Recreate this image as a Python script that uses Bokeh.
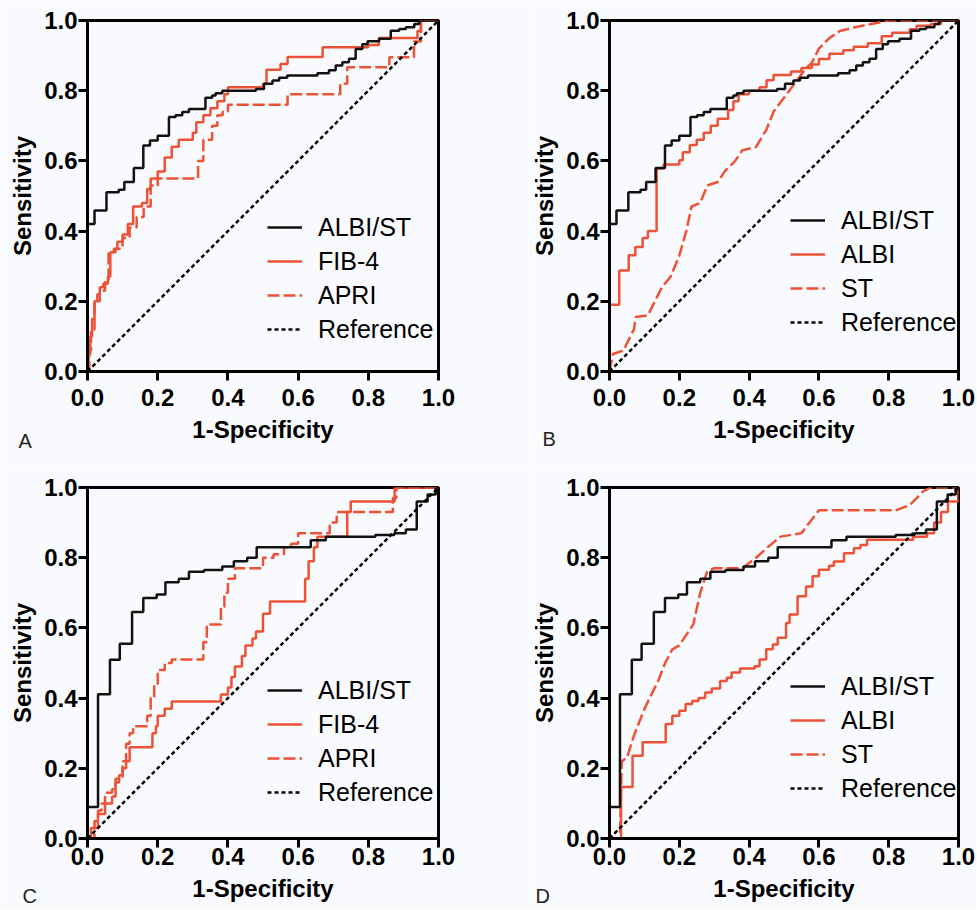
from bokeh.plotting import figure
from bokeh.layouts import row, column
from bokeh.models import Range1d, FixedTicker, Label
from bokeh.embed import file_html
from bokeh.resources import INLINE

# ---------------- data ----------------
TICKS = [0.0, 0.2, 0.4, 0.6, 0.8, 1.0]
TICK_LABELS = ["0.0", "0.2", "0.4", "0.6", "0.8", "1.0"]
X_TITLE = "1-Specificity"
Y_TITLE = "Sensitivity"
PANEL_LETTERS = ["A", "B", "C", "D"]

REF_X = [0.0, 1.0]
REF_Y = [0.0, 1.0]

# ALBI/ST, panels A and B
albist_ab_fpr = [0, 0, 0.02, 0.054, 0.089, 0.105, 0.132, 0.159, 0.178, 0.2,
                 0.232, 0.251, 0.27, 0.289, 0.336, 0.355, 0.365, 0.384, 0.48, 0.503,
                 0.527, 0.546, 0.569, 0.655, 0.688, 0.707, 0.726, 0.745, 0.764, 0.783,
                 0.798, 0.831, 0.864, 0.888, 0.907, 0.931, 0.945, 1.0]
albist_ab_tpr = [0, 0.42, 0.459, 0.511, 0.518, 0.54, 0.58, 0.644, 0.658, 0.672,
                 0.725, 0.73, 0.739, 0.748, 0.78, 0.786, 0.793, 0.80, 0.805, 0.82,
                 0.829, 0.837, 0.843, 0.85, 0.858, 0.872, 0.881, 0.891, 0.919, 0.932,
                 0.941, 0.948, 0.971, 0.976, 0.981, 0.99, 1.0, 1.0]

# FIB-4, panel A
fib4_a_fpr = [0, 0.003, 0.008, 0.013, 0.02, 0.028, 0.035, 0.045, 0.058, 0.065,
              0.075, 0.085, 0.1, 0.115, 0.13, 0.155, 0.17, 0.18, 0.2, 0.22,
              0.24, 0.26, 0.3, 0.31, 0.33, 0.35, 0.37, 0.39, 0.4, 0.5,
              0.51, 0.55, 0.57, 0.67, 0.8, 0.83, 0.94, 0.95, 1.0]
fib4_a_tpr = [0, 0.05, 0.1, 0.15, 0.2, 0.22, 0.24, 0.25, 0.27, 0.34,
              0.35, 0.37, 0.39, 0.42, 0.47, 0.48, 0.52, 0.55, 0.57, 0.61,
              0.64, 0.66, 0.68, 0.71, 0.73, 0.75, 0.77, 0.79, 0.81, 0.82,
              0.86, 0.876, 0.896, 0.924, 0.93, 0.95, 0.97, 1.0, 1.0]

# APRI, panel A
apri_a_fpr = [0, 0.005, 0.01, 0.02, 0.035, 0.05, 0.06, 0.08, 0.1, 0.12,
              0.14, 0.16, 0.18, 0.2, 0.315, 0.33, 0.355, 0.37, 0.385, 0.4,
              0.57, 0.72, 0.74, 0.86, 0.93, 0.95, 1.0]
apri_a_tpr = [0, 0.06, 0.12, 0.2, 0.23, 0.26, 0.34, 0.35, 0.38, 0.41,
              0.44, 0.47, 0.53, 0.55, 0.6, 0.66, 0.7, 0.73, 0.74, 0.76,
              0.79, 0.82, 0.867, 0.895, 0.94, 1.0, 1.0]

# ALBI, panel B
albi_b_fpr = [0, 0, 0.028, 0.055, 0.074, 0.095, 0.11, 0.135, 0.155, 0.2,
              0.21, 0.23, 0.25, 0.27, 0.29, 0.31, 0.34, 0.355, 0.37, 0.4,
              0.43, 0.45, 0.47, 0.52, 0.55, 0.58, 0.6, 0.63, 0.67, 0.7,
              0.74, 0.78, 0.81, 0.86, 0.88, 0.92, 0.95, 1.0]
albi_b_tpr = [0, 0.19, 0.288, 0.331, 0.355, 0.38, 0.40, 0.578, 0.59, 0.602,
              0.625, 0.645, 0.66, 0.68, 0.70, 0.72, 0.745, 0.77, 0.79, 0.80,
              0.81, 0.83, 0.845, 0.855, 0.865, 0.875, 0.89, 0.905, 0.915, 0.925,
              0.935, 0.955, 0.965, 0.975, 0.985, 0.99, 1.0, 1.0]

# ST, panel B
st_b_fpr = [0, 0.01, 0.04, 0.05, 0.07, 0.075, 0.11, 0.13, 0.15, 0.175,
            0.2, 0.22, 0.235, 0.26, 0.28, 0.31, 0.33, 0.36, 0.38, 0.42,
            0.45, 0.47, 0.5, 0.53, 0.56, 0.58, 0.6, 0.63, 0.66, 0.7,
            0.75, 0.8, 1.0]
st_b_tpr = [0, 0.05, 0.06, 0.08, 0.12, 0.155, 0.16, 0.2, 0.24, 0.27,
            0.33, 0.40, 0.47, 0.48, 0.53, 0.54, 0.57, 0.60, 0.63, 0.64,
            0.69, 0.74, 0.78, 0.82, 0.86, 0.88, 0.92, 0.95, 0.97, 0.98,
            0.99, 1.0, 1.0]

# ALBI/ST, panels C and D
albist_cd_fpr = [0, 0, 0.03, 0.064, 0.092, 0.127, 0.159, 0.197, 0.222, 0.26,
                 0.289, 0.332, 0.384, 0.417, 0.455, 0.482, 0.636, 0.679, 0.82, 0.874,
                 0.907, 0.938, 0.969, 0.992, 1.0]
albist_cd_tpr = [0, 0.09, 0.411, 0.509, 0.555, 0.645, 0.685, 0.695, 0.73, 0.74,
                 0.76, 0.765, 0.775, 0.79, 0.80, 0.83, 0.85, 0.86, 0.865, 0.87,
                 0.88, 0.96, 0.98, 1.0, 1.0]

# FIB-4, panel C
fib4_c_fpr = [0, 0.01, 0.02, 0.03, 0.05, 0.07, 0.08, 0.09, 0.1, 0.11,
              0.12, 0.185, 0.195, 0.2, 0.22, 0.24, 0.38, 0.40, 0.41, 0.42,
              0.44, 0.45, 0.47, 0.48, 0.5, 0.52, 0.62, 0.63, 0.645, 0.655,
              0.665, 0.74, 0.75, 0.875, 1.0]
fib4_c_tpr = [0, 0.03, 0.05, 0.07, 0.10, 0.12, 0.16, 0.18, 0.20, 0.22,
              0.26, 0.30, 0.32, 0.35, 0.37, 0.39, 0.41, 0.43, 0.46, 0.49,
              0.52, 0.55, 0.57, 0.59, 0.64, 0.675, 0.74, 0.79, 0.83, 0.86,
              0.86, 0.93, 0.96, 1.0, 1.0]

# APRI, panel C
apri_c_fpr = [0, 0.02, 0.03, 0.04, 0.05, 0.07, 0.08, 0.1, 0.11, 0.12,
              0.13, 0.17, 0.18, 0.19, 0.2, 0.22, 0.24, 0.33, 0.34, 0.38,
              0.39, 0.4, 0.42, 0.5, 0.53, 0.56, 0.58, 0.6, 0.69, 0.71,
              0.87, 0.88, 1.0]
apri_c_tpr = [0, 0.03, 0.08, 0.10, 0.13, 0.14, 0.17, 0.22, 0.27, 0.30,
              0.32, 0.35, 0.40, 0.44, 0.48, 0.50, 0.51, 0.56, 0.61, 0.66,
              0.70, 0.74, 0.77, 0.80, 0.81, 0.83, 0.84, 0.87, 0.90, 0.93,
              0.97, 1.0, 1.0]

# ALBI, panel D
albi_d_fpr = [0, 0.024, 0.033, 0.066, 0.095, 0.161, 0.18, 0.2, 0.218, 0.237, 0.255,
              0.274, 0.293, 0.317, 0.336, 0.35, 0.374, 0.416, 0.43, 0.449, 0.468,
              0.482, 0.506, 0.516, 0.539, 0.563, 0.582, 0.6, 0.629, 0.643, 0.672,
              0.7, 0.719, 0.738, 0.87, 0.91, 0.93, 0.95, 0.97, 1.0, 1.0]
albi_d_tpr = [0, 0, 0.147, 0.236, 0.274, 0.326, 0.35, 0.364, 0.383, 0.392, 0.40,
              0.416, 0.427, 0.449, 0.458, 0.473, 0.484, 0.491, 0.51, 0.539, 0.553,
              0.572, 0.614, 0.638, 0.69, 0.718, 0.747, 0.766, 0.777, 0.789, 0.813,
              0.827, 0.836, 0.851, 0.86, 0.87, 0.9, 0.93, 0.96, 0.975, 1.0]

# ST, panel D
st_d_fpr = [0, 0.03, 0.035, 0.05, 0.07, 0.1, 0.12, 0.14, 0.16, 0.18, 0.2,
            0.22, 0.24, 0.26, 0.28, 0.3, 0.38, 0.42, 0.45, 0.49, 0.55,
            0.6, 0.82, 0.86, 0.9, 0.92, 1.0]
st_d_tpr = [0, 0, 0.22, 0.23, 0.293, 0.369, 0.41, 0.45, 0.501, 0.539, 0.55,
            0.58, 0.61, 0.70, 0.761, 0.77, 0.77, 0.80, 0.827, 0.86, 0.87,
            0.935, 0.935, 0.95, 0.99, 1.0, 1.0]

# ---------------- styling ----------------
BLACK = "#111111"
RED = "#EE5236"
BG = "#f9fafd"
FONT = "Liberation Sans"

PANELS = [
    dict(letter=PANEL_LETTERS[0],
         series=[("ALBI/ST", albist_ab_fpr, albist_ab_tpr, BLACK, "solid", "step"),
                 ("FIB-4", fib4_a_fpr, fib4_a_tpr, RED, "solid", "step"),
                 ("APRI", apri_a_fpr, apri_a_tpr, RED, "12 4", "step")],
         width=528, height=467, left=87, right=90, top=20, bottom=96,
         legend_xy=(180, 27), letter_px=(-420, -69), bottom_row=False),
    dict(letter=PANEL_LETTERS[1],
         series=[("ALBI/ST", albist_ab_fpr, albist_ab_tpr, BLACK, "solid", "step"),
                 ("ALBI", albi_b_fpr, albi_b_tpr, RED, "solid", "step"),
                 ("ST", st_b_fpr, st_b_tpr, RED, "12 4", "line")],
         width=448, height=467, left=79, right=18, top=20, bottom=96,
         legend_xy=(181, 34), letter_px=(-416, -67), bottom_row=False),
    dict(letter=PANEL_LETTERS[2],
         series=[("ALBI/ST", albist_cd_fpr, albist_cd_tpr, BLACK, "solid", "step"),
                 ("FIB-4", fib4_c_fpr, fib4_c_tpr, RED, "solid", "step"),
                 ("APRI", apri_c_fpr, apri_c_tpr, RED, "12 4", "step")],
         width=528, height=442, left=87, right=90, top=20, bottom=71,
         legend_xy=(180, 31), letter_px=(-416, -57), bottom_row=True),
    dict(letter=PANEL_LETTERS[3],
         series=[("ALBI/ST", albist_cd_fpr, albist_cd_tpr, BLACK, "solid", "step"),
                 ("ALBI", albi_d_fpr, albi_d_tpr, RED, "solid", "step"),
                 ("ST", st_d_fpr, st_d_tpr, RED, "12 4", "line")],
         width=448, height=442, left=79, right=18, top=20, bottom=71,
         legend_xy=(181, 35), letter_px=(-423, -57), bottom_row=True),
]


def make_panel(cfg):
    p = figure(width=cfg["width"], height=cfg["height"],
               x_range=Range1d(0, 1), y_range=Range1d(0, 1),
               output_backend="svg", toolbar_location=None,
               min_border_left=cfg["left"], min_border_right=cfg["right"],
               min_border_top=cfg["top"], min_border_bottom=cfg["bottom"],
               background_fill_color=BG, border_fill_color=BG)
    p.xgrid.visible = False
    p.ygrid.visible = False
    p.outline_line_color = "black"
    p.outline_line_width = 3
    p.outline_line_alpha = 1.0

    # red curves first, black on top
    order = [s for s in cfg["series"] if s[3] != BLACK] + [s for s in cfg["series"] if s[3] == BLACK]
    for name, xs, ys, color, dash, kind in order:
        if kind == "step":
            p.step(xs, ys, mode="after", line_color=color, line_width=2.5,
                   line_dash=dash, legend_label=name)
        else:
            p.line(xs, ys, line_color=color, line_width=2.5,
                   line_dash=dash, legend_label=name)
    p.line(REF_X, REF_Y, line_color="black", line_width=2.5, line_dash="4 3",
           legend_label="Reference")

    # legend order as in reference
    leg = p.legend[0]
    names = [s[0] for s in cfg["series"]] + ["Reference"]
    items = {it.label.value: it for it in leg.items}
    leg.items = [items[n] for n in names]
    leg.location = cfg["legend_xy"]
    leg.padding = 0
    leg.margin = 0
    leg.spacing = 4
    leg.glyph_width = 35
    leg.glyph_height = 30
    leg.label_height = 30
    leg.label_standoff = 16
    leg.border_line_color = None
    leg.background_fill_alpha = 0
    leg.label_text_font = FONT
    leg.label_text_font_size = "25px"
    leg.label_text_color = "black"

    for ax in (p.xaxis[0], p.yaxis[0]):
        ax.ticker = FixedTicker(ticks=TICKS)
        ax.major_label_overrides = dict(zip(TICKS, TICK_LABELS))
        ax.axis_line_width = 3
        ax.axis_line_color = "black"
        ax.major_tick_line_width = 3
        ax.major_tick_line_color = "black"
        ax.major_tick_out = 9
        ax.major_tick_in = 0
        ax.minor_tick_line_color = None
        ax.major_label_text_font = FONT
        ax.major_label_text_font_style = "bold"
        ax.major_label_text_font_size = "24px"
        ax.major_label_text_color = "black"
        ax.axis_label_text_font = FONT
        ax.axis_label_text_font_style = "bold"
        ax.axis_label_text_font_size = "24px"
        ax.axis_label_text_color = "black"
    p.xaxis[0].axis_label = X_TITLE
    p.yaxis[0].axis_label = Y_TITLE
    p.yaxis[0].major_label_standoff = 1
    p.yaxis[0].axis_label_standoff = 5
    if cfg["bottom_row"]:
        p.xaxis[0].major_label_standoff = 0
        p.xaxis[0].axis_label_standoff = 7
    else:
        p.xaxis[0].major_label_standoff = 8
        p.xaxis[0].axis_label_standoff = 7

    # panel letter: placed in the right side panel (not clipped to the frame),
    # offset in screen pixels to the lower-left corner of the figure
    lx, ly = cfg["letter_px"]
    p.add_layout(Label(x=lx, y=ly, x_units="screen", y_units="screen",
                       text=cfg["letter"], text_font=FONT,
                       text_font_size="20px", text_color="#222222",
                       text_baseline="alphabetic", text_align="left"), "right")
    return p


figs = [make_panel(c) for c in PANELS]
layout = column(row(figs[0], figs[1], spacing=0), row(figs[2], figs[3], spacing=0), spacing=0)

open("out.html", "w").write(file_html(layout, INLINE))
